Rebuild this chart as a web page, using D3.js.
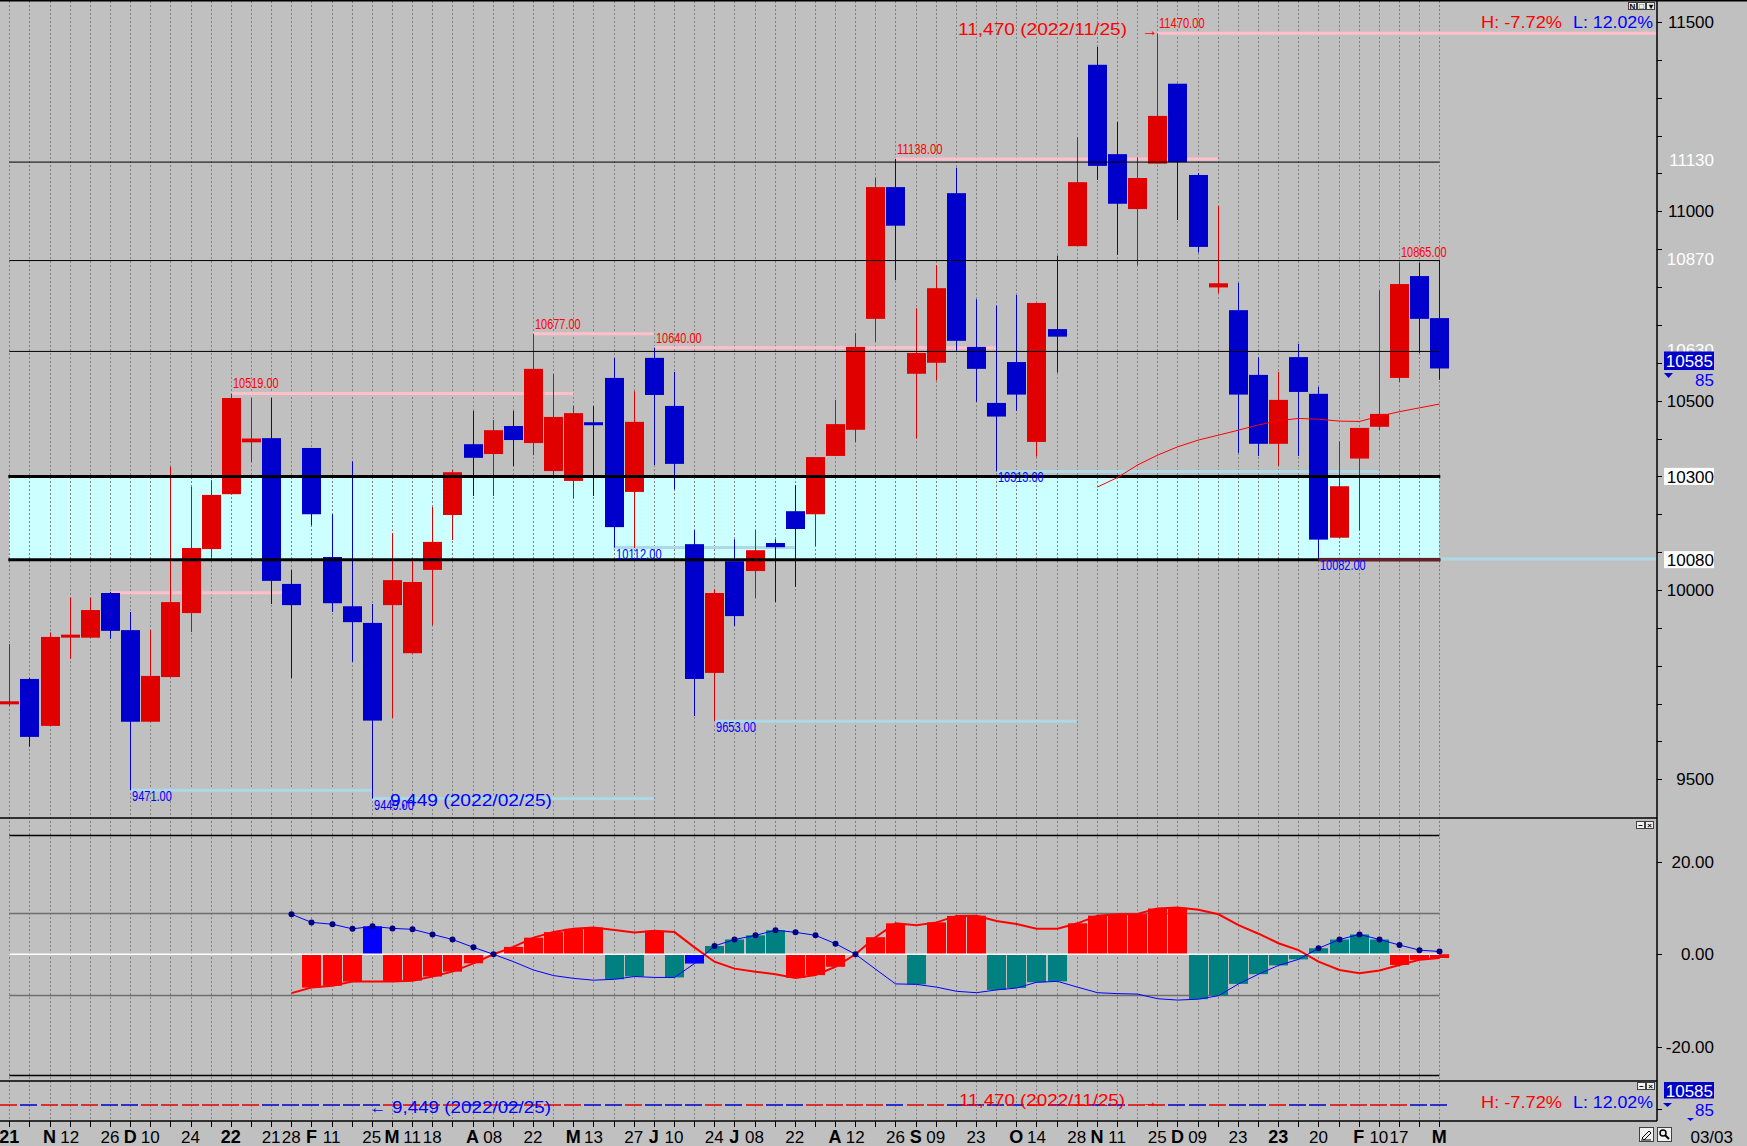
<!DOCTYPE html>
<html><head><meta charset="utf-8">
<script src="https://cdn.jsdelivr.net/npm/d3@7"></script>
<style>html,body{margin:0;padding:0;background:#c0c0c0;overflow:hidden}</style>
</head><body>
<svg id="c" width="1747" height="1146"></svg>
<script>
// ---------------- DATA ----------------
const dates = ["2021-10-22","2021-10-29","2021-11-05","2021-11-12","2021-11-19","2021-11-26","2021-12-03","2021-12-10","2021-12-17","2021-12-24","2021-12-31",
"2022-01-07","2022-01-14","2022-01-21","2022-01-28","2022-02-04","2022-02-11","2022-02-18","2022-02-25","2022-03-04","2022-03-11","2022-03-18","2022-03-25",
"2022-04-01","2022-04-08","2022-04-15","2022-04-22","2022-04-29","2022-05-06","2022-05-13","2022-05-20","2022-05-27","2022-06-03","2022-06-10","2022-06-17",
"2022-06-24","2022-07-01","2022-07-08","2022-07-15","2022-07-22","2022-07-29","2022-08-05","2022-08-12","2022-08-19","2022-08-26","2022-09-02","2022-09-09",
"2022-09-16","2022-09-23","2022-09-30","2022-10-07","2022-10-14","2022-10-21","2022-10-28","2022-11-04","2022-11-11","2022-11-18","2022-11-25","2022-12-02",
"2022-12-09","2022-12-16","2022-12-23","2022-12-30","2023-01-06","2023-01-13","2023-01-20","2023-01-27","2023-02-03","2023-02-10","2023-02-17","2023-02-24","2023-03-03"];

const open  = [9698,9765,9641,9877,9874,9992,9894,9652,9770,9939,10108,10253,10390,10401,10016,10375,10087,9957,9913,9960,9833,10053,10198,10385,10359,10433,10388,10314,10288,10443,10560,10259,10613,10486,10121,9781,10076,10050,10124,10208,10200,10354,10423,10716,11064,10571,10600,11048,10642,10494,10602,10391,10689,10908,11387,11151,11006,11126,11337,11096,10799,10739,10568,10386,10615,10518,10138,10347,10431,10560,10829,10718];
const high  = [9857,9768,9888,9980,9980,9995,9942,9894,10325,10272,10290,10519,10507,10507,10053,10375,10200,10340,9963,10150,10084,10219,10317,10473,10449,10473,10677,10570,10486,10486,10613,10525,10640,10576,10158,10002,10134,10158,10134,10277,10351,10502,10679,11089,11138,10744,10858,11115,10768,10751,10779,10758,10883,11196,11434,11236,11143,11470,11337,11101,11014,10811,10615,10576,10650,10536,10393,10428,10790,10865,10864,10872];
const low   = [9694,9586,9641,9818,9874,9871,9471,9652,9770,9889,10086,10253,10338,9963,9767,10171,9942,9810,9449,9662,9833,9907,10132,10248,10248,10327,10356,10301,10243,10248,10112,10111,10330,10266,9667,9653,9905,9979,9968,10008,10116,10354,10391,10656,10818,10400,10553,10632,10497,10313,10473,10352,10574,10908,11083,10885,10858,11126,10977,10891,10784,10362,10354,10328,10354,10082,10138,10158,10422,10549,10626,10555];
const close = [9706,9612,9876,9882,9947,9892,9652,9773,9968,10111,10251,10507,10400,10024,9960,10200,9965,9915,9655,10026,10021,10127,10311,10349,10422,10396,10584,10457,10467,10440,10166,10444,10515,10333,9765,9992,9931,10105,10113,10161,10351,10438,10642,11064,10962,10626,10797,10658,10584,10458,10516,10758,10669,11077,11120,11020,11088,11252,11130,10906,10810,10516,10386,10502,10523,10133,10274,10428,10465,10808,10716,10585];

// moving average (thin red line) starting at maStart
const maStart = "2022-11-04";
const maValues = [10272,10297,10330,10356,10378,10396,10409,10422,10436,10447,10453,10451,10446,10445,10459,10471,10481,10491];

// x-axis tick labels (one per week, "" = none)
const xLabels = ["21","","N","12","","26","D","10","","24","","22","","21","28","F","11","","25","M","11","18","","A","08","","22","","M","13","","27","J","10","","24","J","08","","22","","A","12","","26","S","09","","23","","O","14","","28","N","11","","25","D","09","","23","","23","","20","","F","10","17","","M"];
const xLabelBold = ["2021-10-22","2021-11-05","2021-12-03","2022-01-07","2022-02-04","2022-03-04","2022-04-01","2022-05-06","2022-06-03","2022-07-01","2022-08-05","2022-09-02","2022-10-07","2022-11-04","2022-12-02","2023-01-06","2023-02-03","2023-03-03"];

// price axis
const priceTicks = [11500, 11000, 10500, 10000, 9500];
const levelLines = [11130, 10870, 10630];
const zoneLevels = [10300, 10080];
const lastPrice = 10585;

// high / low marker lines [from, to (null = right edge), value, label]
const hiLines = [
  ["2021-11-26","2022-01-28", 9993, ""],
  ["2022-01-07","2022-05-06",10519,"10519.00"],
  ["2022-04-22","2022-06-03",10677,"10677.00"],
  ["2022-06-03","2022-09-30",10640,"10640.00"],
  ["2022-08-26","2022-12-16",11138,"11138.00"],
  ["2022-11-25",null,11470,"11470.00"]
];
const loLines = [
  ["2021-12-03","2022-02-25", 9471,"9471.00"],
  ["2022-02-25","2022-06-03", 9449,"9449.00"],
  ["2022-05-20","2022-07-22",10112,"10112.00"],
  ["2022-06-24","2022-10-28", 9653,"9653.00"],
  ["2022-09-30","2023-02-10",10313,"10313.00"],
  ["2023-01-20",null,10082,"10082.00"]
];
const extraHighLabel = ["2023-02-17", 10865, "10865.00"];

// indicator (starts at indStart)
const indStart = "2022-01-28";
const blueLine = [8.65,6.9,6.5,5.5,6.05,5.6,5.4,4.3,3.2,1.5,0.0,-1.6,-3.4,-4.6,-5.2,-5.6,-5.4,-4.8,-5.0,-5.0,-2.0,1.8,3.2,4.1,5.2,4.75,4.1,2.3,0.0,-3.2,-6.4,-6.5,-7.1,-8.0,-8.3,-7.7,-7.3,-6.05,-5.85,-7.1,-8.3,-8.5,-8.6,-9.6,-9.9,-9.7,-8.95,-6.4,-4.3,-2.4,-1.1,1.3,3.2,4.3,3.2,2.0,0.9,0.6];
const redLine  = [-8.4,-7.2,-6.8,-5.9,-5.9,-5.9,-5.7,-4.8,-3.75,-1.95,0.0,1.6,3.6,4.8,5.5,5.8,5.25,4.7,5.1,4.8,1.5,-1.6,-3.1,-3.75,-4.3,-5.1,-4.5,-2.7,0.0,3.7,6.7,6.3,6.9,8.3,8.35,7.2,6.55,5.55,5.55,6.7,8.35,8.65,8.7,9.9,10.1,9.65,8.65,6.3,4.45,2.4,0.9,-1.6,-3.4,-4.1,-3.5,-2.3,-1.2,-0.8];
const barKind  = "-rrrbrrrrrrrrrrrttrtbttttrrrrrrtrrrttttrrrrrrttttttttttrrrr".split("");
const indTicks = [20, 0, -20];
const indGuides = [8.85, -8.85];
const indBounds = [25.8, -26];

// ---------------- DRAW ----------------
const W = 1747, H = 1146;
const AX = 1657;               // right axis line
const MAIN_TOP = 1, MAIN_BOT = 818, IND_BOT = 1081, STRIP_BOT = 1121;
const FONT = '"Liberation Sans", Arial, sans-serif';
const RED = "#e00000", BLUE = "#0000cc";

const svg = d3.select("#c");
const x = d3.scalePoint().domain(dates).range([9.3, 1439.3]);
const y = d3.scaleLinear().domain([9500, 11500]).range([779.3, 22]);
const yi = d3.scaleLinear().domain([-20, 20]).range([1046.8, 861.8]);
const px = d => Math.round(x(d));          // integer column of a week
const cx = d => px(d) + 0.5;               // crisp centre
const xFirst = x(dates[0]), xLast = x(dates[dates.length-1]);

function txt(g, X, Y, s, o = {}) {
  const fs = o.size || 17;
  const t = g.append("text").attr("x", X).attr("y", Y + fs * 0.36)
    .attr("font-family", o.family || FONT).attr("font-size", fs)
    .attr("fill", o.color || "#000").attr("text-anchor", o.anchor || "start")
    .attr("font-weight", o.weight || "normal").text(s);
  if (o.len) t.attr("textLength", o.len).attr("lengthAdjust", "spacingAndGlyphs");
  return t;
}

svg.append("rect").attr("width", W).attr("height", H).attr("fill", "#c0c0c0");

// cyan zone
const gZone = svg.append("g");
gZone.append("rect").attr("x", xFirst).attr("width", xLast - xFirst)
  .attr("y", y(zoneLevels[0])).attr("height", y(zoneLevels[1]) - y(zoneLevels[0]))
  .attr("fill", "#ccffff");

// vertical dashed grid
svg.append("g").selectAll("line").data(dates).join("line")
  .attr("x1", cx).attr("x2", cx).attr("y1", MAIN_TOP).attr("y2", STRIP_BOT)
  .attr("stroke", "#808080").attr("stroke-width", 1).attr("stroke-dasharray", "2,2");

// high / low marker lines (under candles)
const gMark = svg.append("g");
const lineEnd = d => d === null ? AX : x(d);
gMark.selectAll("line.hi").data(hiLines).join("line").attr("class", "hi")
  .attr("x1", d => x(d[0])).attr("x2", d => lineEnd(d[1]))
  .attr("y1", d => y(d[2])).attr("y2", d => y(d[2]))
  .attr("stroke", "#ffc0cb").attr("stroke-width", 3);
gMark.selectAll("line.lo").data(loLines).join("line").attr("class", "lo")
  .attr("x1", d => x(d[0])).attr("x2", d => lineEnd(d[1]))
  .attr("y1", d => y(d[2])).attr("y2", d => y(d[2]))
  .attr("stroke", "#add8e6").attr("stroke-width", 3);

// candles
const candles = dates.map((d, i) => ({ d, o: open[i], h: high[i], l: low[i], c: close[i] }));
const gC = svg.append("g");
gC.selectAll("line").data(candles).join("line")
  .attr("x1", d => cx(d.d)).attr("x2", d => cx(d.d))
  .attr("y1", d => y(d.h)).attr("y2", d => y(d.l))
  .attr("stroke", d => d.c >= d.o ? RED : BLUE).attr("stroke-width", 1);
gC.selectAll("rect").data(candles).join("rect")
  .attr("x", d => px(d.d) - 9).attr("width", 19)
  .attr("y", d => y(Math.max(d.o, d.c)))
  .attr("height", d => Math.max(3, y(Math.min(d.o, d.c)) - y(Math.max(d.o, d.c))))
  .attr("fill", d => d.c >= d.o ? RED : BLUE);

// level lines (on top)
const gL = svg.append("g");
gL.selectAll("line.lv").data(levelLines).join("line").attr("class", "lv")
  .attr("x1", xFirst).attr("x2", xLast).attr("y1", d => y(d)).attr("y2", d => y(d))
  .attr("stroke", "#000").attr("stroke-width", 1);
gL.selectAll("line.zn").data(zoneLevels).join("line").attr("class", "zn")
  .attr("x1", xFirst - 1).attr("x2", xLast + 1).attr("y1", d => y(d)).attr("y2", d => y(d))
  .attr("stroke", "#000").attr("stroke-width", 3);
// portion of lower zone line overlapped by the last low marker
gL.append("line").attr("x1", x(loLines[5][0])).attr("x2", xLast + 1)
  .attr("y1", y(zoneLevels[1])).attr("y2", y(zoneLevels[1]))
  .attr("stroke", "#6e1c22").attr("stroke-width", 3);

// moving average
const maIdx = dates.indexOf(maStart);
svg.append("path").datum(maValues.map((v, k) => [dates[maIdx + k], v]))
  .attr("d", d3.line().x(d => cx(d[0])).y(d => y(d[1])))
  .attr("fill", "none").attr("stroke", "#ff0000").attr("stroke-width", 1);

// marker labels
const gT = svg.append("g");
hiLines.concat([[extraHighLabel[0], null, extraHighLabel[1], extraHighLabel[2]]]).forEach(d => {
  if (!d[3]) return;
  txt(gT, cx(d[0]) + 1.5, y(d[2]) - 10, d[3], { size: 14, color: "#ff0000", len: d[3].length * 5.7 });
});
loLines.forEach(d => {
  txt(gT, cx(d[0]) + 1.5, y(d[2]) + 6, d[3], { size: 14, color: "#0000ff", len: d[3].length * 5.7 });
});
txt(gT, 958, y(11470) - 4.3, "11,470 (2022/11/25)", { color: "#ff0000", len: 169 });
txt(gT, 1142, y(11470) - 3, "→", { color: "#ff0000", len: 16 });
txt(gT, 390, y(9449) + 1, "9,449 (2022/02/25)", { color: "#0000ff", len: 162 });

// H/L texts
function hl(Y) {
  txt(gT, 1481, Y, "H: -7.72%", { color: "#ff0000", len: 81 });
  txt(gT, 1573, Y, "L: 12.02%", { color: "#0000ff", len: 80 });
}
hl(21.7);

// ---- indicator pane ----
const gI = svg.append("g");
const iIdx = dates.indexOf(indStart);
const ind = blueLine.map((b, k) => ({ d: dates[iIdx + k], b, r: redLine[k], kind: barKind[k] }));
gI.selectAll("line.g").data(indGuides).join("line").attr("class", "g")
  .attr("x1", xFirst).attr("x2", xLast).attr("y1", d => Math.round(yi(d)) + 0.5).attr("y2", d => Math.round(yi(d)) + 0.5)
  .attr("stroke", "#6e6e6e").attr("stroke-width", 1.5);
gI.selectAll("line.b").data(indBounds).join("line").attr("class", "b")
  .attr("x1", xFirst).attr("x2", xLast).attr("y1", d => Math.round(yi(d)) + 0.5).attr("y2", d => Math.round(yi(d)) + 0.5)
  .attr("stroke", "#000").attr("stroke-width", 1.5);
const bars = ind.filter(d => d.kind !== "-");
const barVal = d => d.kind === "r" ? d.r : d.b;
const barColor = { r: "#ff0000", t: "#008080", b: "#0000ff" };
gI.selectAll("rect").data(bars).join("rect")
  .attr("x", d => px(d.d) - 9).attr("width", 19)
  .attr("y", d => Math.min(yi(0), yi(barVal(d))))
  .attr("height", d => Math.abs(yi(barVal(d)) - yi(0)))
  .attr("fill", d => barColor[d.kind]);
gI.append("line").attr("x1", xFirst).attr("x2", xLast).attr("y1", yi(0)).attr("y2", yi(0))
  .attr("stroke", "#ffffff").attr("stroke-width", 1.5);
gI.append("path").datum(ind).attr("d", d3.line().x(d => cx(d.d)).y(d => yi(d.r)))
  .attr("fill", "none").attr("stroke", "#ff0000").attr("stroke-width", 2);
gI.append("path").datum(ind).attr("d", d3.line().x(d => cx(d.d)).y(d => yi(d.b)))
  .attr("fill", "none").attr("stroke", "#0000ff").attr("stroke-width", 1);
gI.selectAll("circle").data(ind.filter(d => d.b >= 0)).join("circle")
  .attr("cx", d => cx(d.d)).attr("cy", d => yi(d.b)).attr("r", 3).attr("fill", "#000080");

// ---- bottom strip ----
const gS = svg.append("g");
gS.selectAll("line").data(candles).join("line")
  .attr("x1", d => px(d.d) - 9).attr("x2", d => px(d.d) + 8)
  .attr("y1", 1105).attr("y2", 1105)
  .attr("stroke", d => d.c >= d.o ? RED : BLUE).attr("stroke-width", 1.5);
txt(gS, 370, 1106.7, "←", { color: "#0000ff", len: 16 });
txt(gS, 392, 1106.7, "9,449 (2022/02/25)", { color: "#0000ff", len: 159 });
txt(gS, 959, 1100, "11,470 (2022/11/25)", { color: "#ff0000", len: 166 });
txt(gS, 1142, 1101, "→", { color: "#ff0000", len: 16 });
hl(1101.7);

// ---- frames ----
const gF = svg.append("g").attr("stroke", "#000").attr("stroke-width", 1.5);
gF.append("line").attr("x1", 0).attr("x2", W).attr("y1", 0.75).attr("y2", 0.75);
gF.append("line").attr("x1", 0).attr("x2", AX).attr("y1", MAIN_BOT).attr("y2", MAIN_BOT);
gF.append("line").attr("x1", 0).attr("x2", AX).attr("y1", IND_BOT).attr("y2", IND_BOT);
gF.append("line").attr("x1", 0).attr("x2", AX).attr("y1", STRIP_BOT).attr("y2", STRIP_BOT);
gF.append("line").attr("x1", AX).attr("x2", AX).attr("y1", 0).attr("y2", STRIP_BOT);

// ---- price axis ----
const gA = svg.append("g");
gA.selectAll("line").data(d3.range(9500, 11501, 100)).join("line")
  .attr("x1", AX).attr("x2", AX + 5).attr("y1", d => Math.round(y(d)) + 0.5).attr("y2", d => Math.round(y(d)) + 0.5)
  .attr("stroke", "#000").attr("stroke-width", 1);
priceTicks.forEach(v => txt(gA, 1714, y(v), String(v), { anchor: "end" }));
levelLines.forEach(v => txt(gA, 1714, y(v) - 2, String(v), { anchor: "end", color: "#ffffff" }));
zoneLevels.forEach(v => {
  gA.append("rect").attr("x", 1664).attr("y", y(v) - 8.5).attr("width", 50).attr("height", 17).attr("fill", "#ffffff");
  txt(gA, 1714, y(v), String(v), { anchor: "end" });
});
gA.append("rect").attr("x", 1664).attr("y", 351.5).attr("width", 50).attr("height", 18.5).attr("fill", "#0000c8");
txt(gA, 1713, 360.8, String(lastPrice), { anchor: "end", color: "#ffffff" });
gA.append("path").attr("d", "M1664,373 L1673,373 L1668.5,378 Z").attr("fill", "#0000c8");
txt(gA, 1714, 379.5, String(lastPrice % 100), { anchor: "end", color: "#0000ff" });

// indicator axis
indTicks.forEach(v => {
  gA.append("line").attr("x1", AX).attr("x2", AX + 5).attr("y1", Math.round(yi(v)) + 0.5).attr("y2", Math.round(yi(v)) + 0.5).attr("stroke", "#000");
  txt(gA, 1714, yi(v), v.toFixed(2), { anchor: "end" });
});

// strip axis box
gA.append("rect").attr("x", 1664).attr("y", 1082).attr("width", 50).attr("height", 16.5).attr("fill", "#0000c8");
txt(gA, 1713, 1090.5, String(lastPrice), { anchor: "end", color: "#ffffff" });
gA.append("path").attr("d", "M1663,1103 L1672,1103 L1667.5,1107 Z").attr("fill", "#0000c8");
txt(gA, 1714, 1109.5, String(lastPrice % 100), { anchor: "end", color: "#0000ff" });
gA.append("path").attr("d", "M1687,1118 L1694,1118 L1690.5,1121 Z").attr("fill", "#0000ff");
gA.append("line").attr("x1", AX).attr("x2", AX + 5).attr("y1", 1109.5).attr("y2", 1109.5).attr("stroke", "#000");

// ---- x axis ----
const gX = svg.append("g");
gX.selectAll("line").data(dates).join("line")
  .attr("x1", cx).attr("x2", cx).attr("y1", STRIP_BOT).attr("y2", STRIP_BOT + 6)
  .attr("stroke", "#000").attr("stroke-width", 1);
dates.forEach((d, i) => {
  if (!xLabels[i]) return;
  const b = xLabelBold.includes(d);
  txt(gX, x(d), 1137, xLabels[i], { anchor: "middle", weight: b ? "bold" : "normal", size: b ? 18 : 17 });
});
txt(gX, 1733, 1137, "03/03", { anchor: "end" });

// ---- small window buttons ----
function btn(X, Y, w, h, glyph) {
  svg.append("rect").attr("x", X + 0.5).attr("y", Y + 0.5).attr("width", w).attr("height", h)
    .attr("fill", "#f0f0f0").attr("stroke", "#404040").attr("stroke-width", 1);
  if (glyph) txt(svg, X + w / 2 + 0.5, Y + h / 2 + 0.5, glyph, { size: 8, anchor: "middle", weight: "bold" });
}
btn(1628, 2, 8, 7, "N"); btn(1637, 2, 8, 7, "□"); btn(1646, 2, 8, 7, "▾");
btn(1636, 821, 8, 7, "−"); btn(1645, 821, 8, 7, "×");
btn(1637, 1082, 8, 7, "−"); btn(1646, 1082, 8, 7, "×");
btn(1639, 1127, 14, 14, ""); btn(1657, 1127, 14, 14, "");
svg.append("path").attr("d", "M1642,1138 L1649,1131 L1651,1133 L1644,1140 Z M1641,1140 L1651,1140").attr("fill", "none").attr("stroke", "#000");
svg.append("circle").attr("cx", 1663).attr("cy", 1133).attr("r", 3).attr("fill", "none").attr("stroke", "#000").attr("stroke-width", 1.5);
svg.append("line").attr("x1", 1665).attr("y1", 1135).attr("x2", 1669).attr("y2", 1139).attr("stroke", "#000").attr("stroke-width", 2);
</script>
</body></html>
